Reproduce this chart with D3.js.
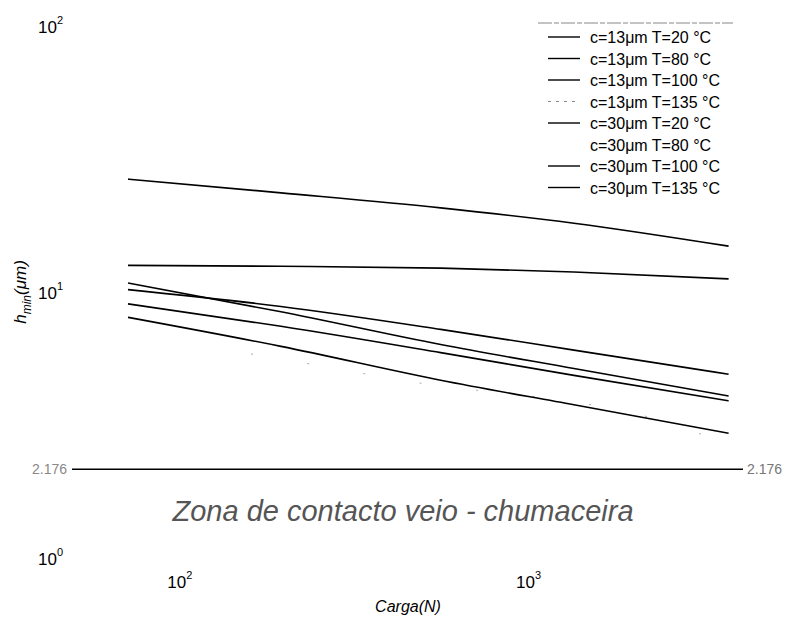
<!DOCTYPE html>
<html>
<head>
<meta charset="utf-8">
<script src="https://cdn.jsdelivr.net/npm/d3@7"></script>
<style>
  html, body { margin: 0; padding: 0; background: #fff; }
  svg { display: block; font-family: "Liberation Sans", Arial, sans-serif; }
</style>
</head>
<body>
<svg id="chart" width="787" height="618"></svg>
<script>
// load points (N)
const loads = [71, 195, 560, 1350, 3750];

// h_min (um) per series
const c13T20 = [26.8, 23.8, 20.9, 18.3, 15.0];
const c13T80 = [10.3, 8.9, 7.3, 6.1, 4.95];
const c13T100 = [9.1, 7.5, 5.97, 4.9, 3.93];
const c30T20 = [12.7, 12.6, 12.4, 12.0, 11.3];
const c30T100 = [10.9, 8.5, 6.4, 5.2, 4.1];
const c30T135 = [8.1, 6.3, 4.7, 3.8, 2.97];

// c=13um T=135 is only faint specks in the scan
const faintLoads = [160, 256, 396, 2775, 3733];
const c13T135 = [5.9, 5.31, 4.79, 3.13, 2.64];

const legendLabels = [
  'c=13\u03bcm T=20 \u00b0C', 'c=13\u03bcm T=80 \u00b0C', 'c=13\u03bcm T=100 \u00b0C', 'c=13\u03bcm T=135 \u00b0C',
  'c=30\u03bcm T=20 \u00b0C', 'c=30\u03bcm T=80 \u00b0C', 'c=30\u03bcm T=100 \u00b0C', 'c=30\u03bcm T=135 \u00b0C'
];

const yTicks = [1, 10, 100];
const xTicks = [100, 1000];
const limitValue = 2.176;
const limitLabel = '2.176';

const svg = d3.select('#chart');

const x = d3.scaleLog().domain([71, 3760]).range([128, 729]);
const y = d3.scaleLog().domain([1, 100]).range([559, 27]);

// series table: style per legend entry
const series = [
  { label: legendLabels[0], xs: loads, ys: c13T20, stroke: '#000', width: 1.6, dash: null },
  { label: legendLabels[1], xs: loads, ys: c13T80, stroke: '#000', width: 1.6, dash: null },
  { label: legendLabels[2], xs: loads, ys: c13T100, stroke: '#000', width: 1.6, dash: null },
  { label: legendLabels[3], xs: faintLoads, ys: c13T135, stroke: '#aaa', width: 1, dash: '2,55' },
  { label: legendLabels[4], xs: loads, ys: c30T20, stroke: '#000', width: 1.6, dash: null },
  { label: legendLabels[5], xs: [], ys: [], stroke: 'none', width: 0, dash: null },
  { label: legendLabels[6], xs: loads, ys: c30T100, stroke: '#000', width: 1.6, dash: null },
  { label: legendLabels[7], xs: loads, ys: c30T135, stroke: '#000', width: 1.6, dash: null }
];

const line = d3.line().x(d => x(d[0])).y(d => y(d[1])).curve(d3.curveMonotoneX);

const g = svg.append('g');
series.forEach(s => {
  if (!s.xs.length) return;
  const pts = s.xs.map((v, i) => [v, s.ys[i]]);
  const p = g.append('path').datum(pts)
    .attr('d', line).attr('fill', 'none')
    .attr('stroke', s.stroke).attr('stroke-width', s.width);
  if (s.dash) p.attr('stroke-dasharray', s.dash);
});

// horizontal contact limit
const yl = y(limitValue);
g.append('line')
  .attr('x1', 72).attr('x2', 743).attr('y1', yl).attr('y2', yl)
  .attr('stroke', '#000').attr('stroke-width', 1.5);
g.append('text').attr('x', 67).attr('y', yl + 5).attr('text-anchor', 'end')
  .attr('font-size', 14).attr('fill', '#888').text(limitLabel);
g.append('text').attr('x', 747).attr('y', yl + 5)
  .attr('font-size', 14).attr('fill', '#777').text(limitLabel);

// y tick labels 10^n
yTicks.forEach(t => {
  const txt = svg.append('text')
    .attr('x', 38).attr('y', y(t) + 6)
    .attr('font-size', 17).attr('fill', '#000');
  txt.append('tspan').text('10');
  txt.append('tspan').attr('dy', -9).attr('font-size', 11).text(Math.round(Math.log10(t)));
});

// x tick labels 10^n
xTicks.forEach(t => {
  const txt = svg.append('text')
    .attr('x', x(t)).attr('y', 588).attr('text-anchor', 'middle')
    .attr('font-size', 17).attr('fill', '#000');
  txt.append('tspan').text('10');
  txt.append('tspan').attr('dy', -9).attr('font-size', 11).text(Math.round(Math.log10(t)));
});

// annotation
svg.append('text')
  .attr('x', 403).attr('y', 521).attr('text-anchor', 'middle')
  .attr('font-size', 29).attr('font-style', 'italic').attr('fill', '#555')
  .text('Zona de contacto veio - chumaceira');

// axis titles
svg.append('text')
  .attr('x', 408).attr('y', 612).attr('text-anchor', 'middle')
  .attr('font-size', 16).attr('font-style', 'italic').attr('fill', '#000')
  .text('Carga(N)');

const yt = svg.append('text')
  .attr('transform', 'translate(26,292) rotate(-90)')
  .attr('text-anchor', 'middle')
  .attr('font-size', 17).attr('font-style', 'italic').attr('fill', '#000');
yt.append('tspan').text('h');
yt.append('tspan').attr('dy', 5).attr('font-size', 12).text('min');
yt.append('tspan').attr('dy', -5).text('(\u03bcm)');

// legend
const legend = svg.append('g');
legend.append('line')
  .attr('x1', 538).attr('x2', 733).attr('y1', 23).attr('y2', 23)
  .attr('stroke', '#888').attr('stroke-width', 1).attr('stroke-dasharray', '14,2,5,2');
series.forEach((s, i) => {
  const ly = 37 + i * 21.5;
  if (s.stroke !== 'none') {
    const l = legend.append('line')
      .attr('x1', 548).attr('x2', 580).attr('y1', ly).attr('y2', ly)
      .attr('stroke', s.dash ? '#888' : '#000').attr('stroke-width', s.dash ? 1 : 1.4);
    if (s.dash) l.attr('stroke-dasharray', '3,5');
  }
  legend.append('text')
    .attr('x', 590).attr('y', ly + 6)
    .attr('font-size', 16).attr('fill', '#000')
    .text(s.label);
});
</script>
</body>
</html>
